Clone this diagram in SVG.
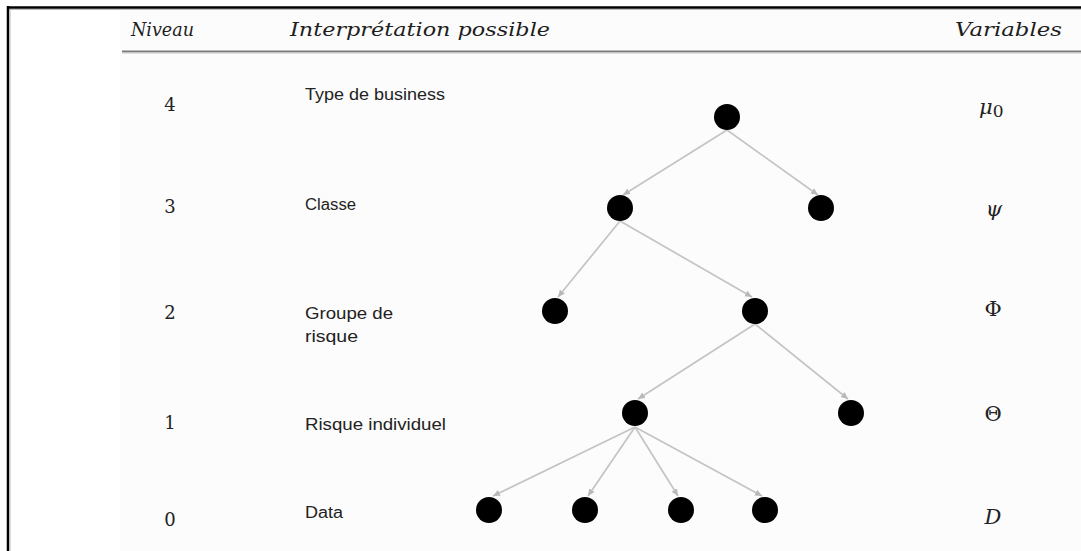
<svg xmlns="http://www.w3.org/2000/svg" width="1081" height="551" viewBox="0 0 1081 551">
  <style>
    .head { font-family: "DejaVu Serif", "Liberation Serif", serif; font-style: italic; font-size: 18.5px; fill: #1e1e1e; }
    .lvl { font-family: "DejaVu Serif", "Liberation Serif", serif; font-size: 18px; fill: #222; }
    .lbl { font-family: "Liberation Sans", Arial, sans-serif; font-size: 16px; fill: #222; }
    .var { font-family: "DejaVu Serif", "Liberation Serif", serif; font-size: 21px; fill: #222; }
    .it { font-style: italic; }
    .node { fill: #000; }
    .edge { stroke: #c4c4c4; stroke-width: 1.7; fill: none; marker-end: url(#arrow); }
  </style>
  <defs>
    <marker id="arrow" markerUnits="userSpaceOnUse" markerWidth="9" markerHeight="9" refX="7" refY="4" orient="auto">
      <path d="M0,0.8 L7,4 L0,7.2 Z" fill="#b8b8b8"/>
    </marker>
  </defs>

  <!-- page background and frame -->
  <rect x="0" y="0" width="1081" height="551" fill="#ffffff"/>
  <rect x="120" y="8" width="961" height="543" fill="#fcfcfc"/>
  <line x1="7" y1="7.5" x2="1081" y2="7.5" stroke="#000" stroke-width="2.5"/>
  <line x1="9" y1="9.5" x2="1081" y2="9.5" stroke="#bbb" stroke-width="1"/>
  <line x1="8" y1="6" x2="8" y2="551" stroke="#000" stroke-width="2.5"/>
  <line x1="10" y1="9" x2="10" y2="551" stroke="#bbb" stroke-width="1"/>

  <!-- column headers -->
  <g id="header">
    <text class="head" x="131" y="36" textLength="63" lengthAdjust="spacingAndGlyphs">Niveau</text>
    <text class="head" x="290" y="36" textLength="260" lengthAdjust="spacingAndGlyphs">Interprétation possible</text>
    <text class="head" x="955" y="36" textLength="107" lengthAdjust="spacingAndGlyphs">Variables</text>
    <line x1="122" y1="51.5" x2="1081" y2="51.5" stroke="#7a7a7a" stroke-width="2"/>
    <line x1="122" y1="53" x2="1081" y2="53" stroke="#c8c8c8" stroke-width="1"/>
  </g>

  <!-- level numbers -->
  <g id="levels">
    <text class="lvl" x="170" y="111" text-anchor="middle">4</text>
    <text class="lvl" x="170" y="213" text-anchor="middle">3</text>
    <text class="lvl" x="170" y="319" text-anchor="middle">2</text>
    <text class="lvl" x="170" y="429" text-anchor="middle">1</text>
    <text class="lvl" x="170" y="526" text-anchor="middle">0</text>
  </g>

  <!-- interpretation labels -->
  <g id="labels">
    <text class="lbl" x="305" y="100" textLength="140" lengthAdjust="spacingAndGlyphs">Type de business</text>
    <text class="lbl" x="305" y="210" textLength="51" lengthAdjust="spacingAndGlyphs">Classe</text>
    <text class="lbl" x="305" y="319" textLength="88" lengthAdjust="spacingAndGlyphs">Groupe de</text>
    <text class="lbl" x="305" y="342" textLength="53" lengthAdjust="spacingAndGlyphs">risque</text>
    <text class="lbl" x="305" y="430" textLength="141" lengthAdjust="spacingAndGlyphs">Risque individuel</text>
    <text class="lbl" x="305" y="518" textLength="38" lengthAdjust="spacingAndGlyphs">Data</text>
  </g>

  <!-- variables -->
  <g id="variables">
    <text class="var it" x="979" y="114">μ<tspan font-style="normal" font-size="17" dy="3">0</tspan></text>
    <text class="var it" x="994" y="216" text-anchor="middle">ψ</text>
    <text class="var" x="993" y="316" text-anchor="middle">Φ</text>
    <text class="var" x="993" y="421" text-anchor="middle">Θ</text>
    <text class="var it" x="993" y="524" text-anchor="middle">D</text>
  </g>

  <!-- connectors -->
  <g id="connectors">
    <line class="edge" x1="727" y1="130" x2="623" y2="195"/>
    <line class="edge" x1="727" y1="130" x2="818" y2="195"/>
    <line class="edge" x1="620" y1="221" x2="558" y2="297"/>
    <line class="edge" x1="620" y1="221" x2="752" y2="297"/>
    <line class="edge" x1="755" y1="324" x2="638" y2="399"/>
    <line class="edge" x1="755" y1="324" x2="848" y2="399"/>
    <line class="edge" x1="635" y1="427" x2="493" y2="496"/>
    <line class="edge" x1="635" y1="427" x2="588" y2="496"/>
    <line class="edge" x1="635" y1="427" x2="678" y2="496"/>
    <line class="edge" x1="635" y1="427" x2="762" y2="496"/>
  </g>

  <!-- tree nodes -->
  <g id="n4"><circle class="node" cx="727" cy="117" r="13"/></g>
  <g id="n3a"><circle class="node" cx="620" cy="208" r="13"/></g>
  <g id="n3b"><circle class="node" cx="821" cy="208" r="13"/></g>
  <g id="n2a"><circle class="node" cx="555" cy="311" r="13"/></g>
  <g id="n2b"><circle class="node" cx="755" cy="311" r="13"/></g>
  <g id="n1a"><circle class="node" cx="635" cy="413" r="13"/></g>
  <g id="n1b"><circle class="node" cx="851" cy="413" r="13"/></g>
  <g id="n0a"><circle class="node" cx="489" cy="510" r="13"/></g>
  <g id="n0b"><circle class="node" cx="585" cy="510" r="13"/></g>
  <g id="n0c"><circle class="node" cx="681" cy="510" r="13"/></g>
  <g id="n0d"><circle class="node" cx="765" cy="510" r="13"/></g>
</svg>
